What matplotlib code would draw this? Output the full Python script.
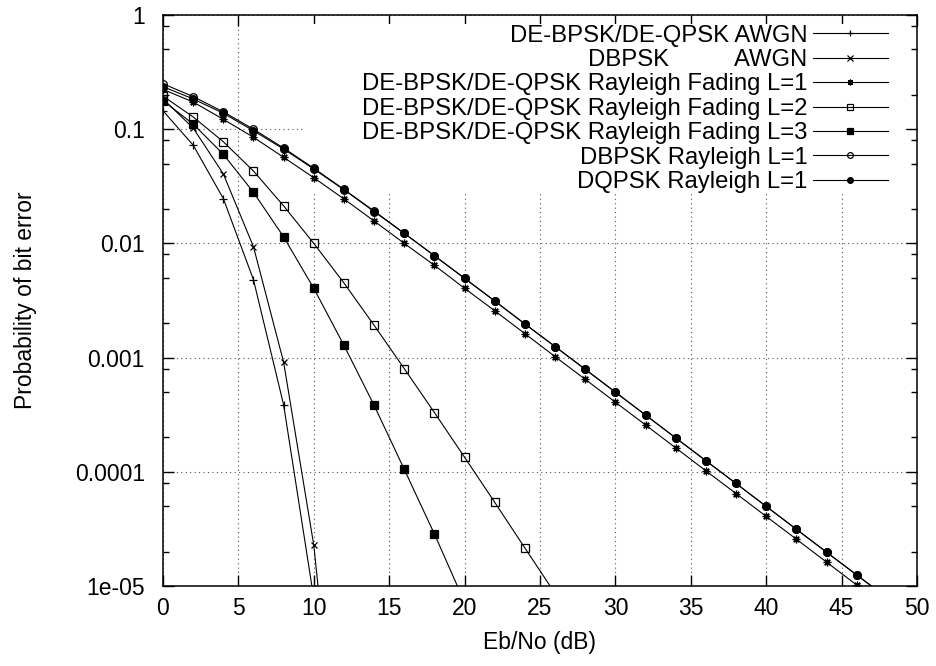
import matplotlib
matplotlib.use("Agg")
import matplotlib.pyplot as plt
from matplotlib.patches import Rectangle
from matplotlib.ticker import LogLocator, NullFormatter

plt.rcParams['font.family'] = ['Liberation Sans', 'DejaVu Sans']

# Eb/No sample points (dB)
x_de_awgn = [0, 2, 4, 6, 8, 10]
x_dbpsk_awgn = [0, 2, 4, 6, 8, 10, 12]
x_ray1 = [0, 2, 4, 6, 8, 10, 12, 14, 16, 18, 20, 22, 24,
          26, 28, 30, 32, 34, 36, 38, 40, 42, 44, 46, 48]
x_ray2 = [0, 2, 4, 6, 8, 10, 12, 14, 16, 18, 20, 22, 24, 26]
x_ray3 = [0, 2, 4, 6, 8, 10, 12, 14, 16, 18, 20]

# bit error probabilities
pb_de_awgn = [0.145, 0.0725, 0.0247, 0.0048, 3.85e-4, 7.8e-6]
pb_dbpsk_awgn = [0.184, 0.1025, 0.0406, 0.00934, 9.1e-4, 2.27e-5, 6.5e-8]
pb_de_ray1 = [0.223, 0.173, 0.122, 0.085, 0.0567, 0.0376, 0.0245, 0.0157,
              0.0100, 0.00643, 0.00404, 0.00257, 0.00162, 0.00102, 6.45e-4,
              4.07e-4, 2.57e-4, 1.62e-4, 1.02e-4, 6.45e-5, 4.07e-5, 2.57e-5,
              1.62e-5, 1.02e-5, 6.45e-6]
pb_de_ray2 = [0.195, 0.128, 0.0777, 0.043, 0.0213, 0.0100, 0.0045, 0.00192,
              8.0e-4, 3.3e-4, 1.34e-4, 5.4e-5, 2.15e-5, 8.6e-6]
pb_de_ray3 = [0.178, 0.111, 0.0603, 0.028, 0.0114, 0.00404, 0.00128, 3.82e-4,
              1.05e-4, 2.85e-5, 7.2e-6]
pb_dbpsk_ray = [0.25, 0.193, 0.142, 0.100, 0.0684, 0.0455, 0.0297, 0.0192,
                0.01226, 0.0078, 0.00495, 0.00313, 0.00197, 0.00125, 7.9e-4,
                4.98e-4, 3.14e-4, 1.98e-4, 1.25e-4, 7.9e-5, 4.98e-5, 3.14e-5,
                1.98e-5, 1.25e-5, 7.9e-6]
pb_dqpsk_ray = [0.236, 0.184, 0.138, 0.097, 0.067, 0.0448, 0.0295, 0.019,
                0.01225, 0.0078, 0.00494, 0.00313, 0.00197, 0.00125, 7.9e-4,
                4.98e-4, 3.14e-4, 1.98e-4, 1.25e-4, 7.9e-5, 4.98e-5, 3.14e-5,
                1.98e-5, 1.25e-5, 7.9e-6]

xticks = [0, 5, 10, 15, 20, 25, 30, 35, 40, 45, 50]
yticks = [1, 0.1, 0.01, 0.001, 0.0001, 1e-05]
ytick_labels = ["1", "0.1", "0.01", "0.001", "0.0001", "1e-05"]

FS = 16.5
fig = plt.figure(figsize=(9.37, 6.66), dpi=100)
ax = fig.add_axes([163 / 937, 1 - 586 / 666, 754 / 937, 571 / 666])

ax.set_yscale('log')
ax.set_xlim(0, 50)
ax.set_ylim(1e-5, 1)
ax.set_xticks(xticks)
ax.set_yticks(yticks, labels=ytick_labels)
ax.yaxis.set_minor_locator(LogLocator(base=10, subs=[2, 5, 8]))
ax.yaxis.set_minor_formatter(NullFormatter())
ax.tick_params(which='both', direction='in', top=True, right=True,
               labelsize=FS, width=1, color='black')
ax.tick_params(which='major', length=8)
ax.tick_params(which='minor', length=4)
ax.tick_params(axis='x', pad=8)
ax.tick_params(axis='y', pad=13)
for s in ax.spines.values():
    s.set_linewidth(1.1)

ax.set_axisbelow(True)
ax.grid(True, which='major', linestyle=(0, (1, 3)), color='#555555', linewidth=0.8)
# key area hides the grid like gnuplot does
ax.add_patch(Rectangle((0.1857, 0.688), 0.984 - 0.1857, 0.984 - 0.688,
                       transform=ax.transAxes, facecolor='white',
                       edgecolor='none', zorder=1))

kw = dict(color='black', linewidth=0.8, markersize=5.5, markeredgewidth=0.9)
ax.plot(x_de_awgn, pb_de_awgn, marker='+', label="DE-BPSK/DE-QPSK AWGN", **kw)
ax.plot(x_dbpsk_awgn, pb_dbpsk_awgn, marker='x', markersize=5,
        label="DBPSK          AWGN",
        **{k: v for k, v in kw.items() if k != 'markersize'})
ax.plot(x_ray1, pb_de_ray1, marker=(8, 2, 0),
        label="DE-BPSK/DE-QPSK Rayleigh Fading L=1", **kw)
ax.plot(x_ray2, pb_de_ray2, marker='s', markerfacecolor='none',
        label="DE-BPSK/DE-QPSK Rayleigh Fading L=2", **kw)
ax.plot(x_ray3, pb_de_ray3, marker='s', markerfacecolor='black',
        label="DE-BPSK/DE-QPSK Rayleigh Fading L=3", **kw)
ax.plot(x_ray1, pb_dbpsk_ray, marker='o', markerfacecolor='none',
        label="DBPSK Rayleigh L=1", **kw)
ax.plot(x_ray1, pb_dqpsk_ray, marker='o', markerfacecolor='black',
        label="DQPSK Rayleigh L=1", **kw)

leg = ax.legend(loc='upper right', bbox_to_anchor=(0.9615, 0.983),
                frameon=False, fontsize=17.2, markerfirst=False,
                borderpad=0, borderaxespad=0, labelspacing=0.1,
                handlelength=3.15, handletextpad=0.22, markerscale=0.75)
leg.set_zorder(5)

ax.set_xlabel("Eb/No (dB)", fontsize=FS)
ax.set_ylabel("Probability of bit error", fontsize=FS)
ax.xaxis.set_label_coords(0.5, -0.078)
ax.yaxis.set_label_coords(-0.167, 0.5)

fig.savefig("out.png", dpi=100)
